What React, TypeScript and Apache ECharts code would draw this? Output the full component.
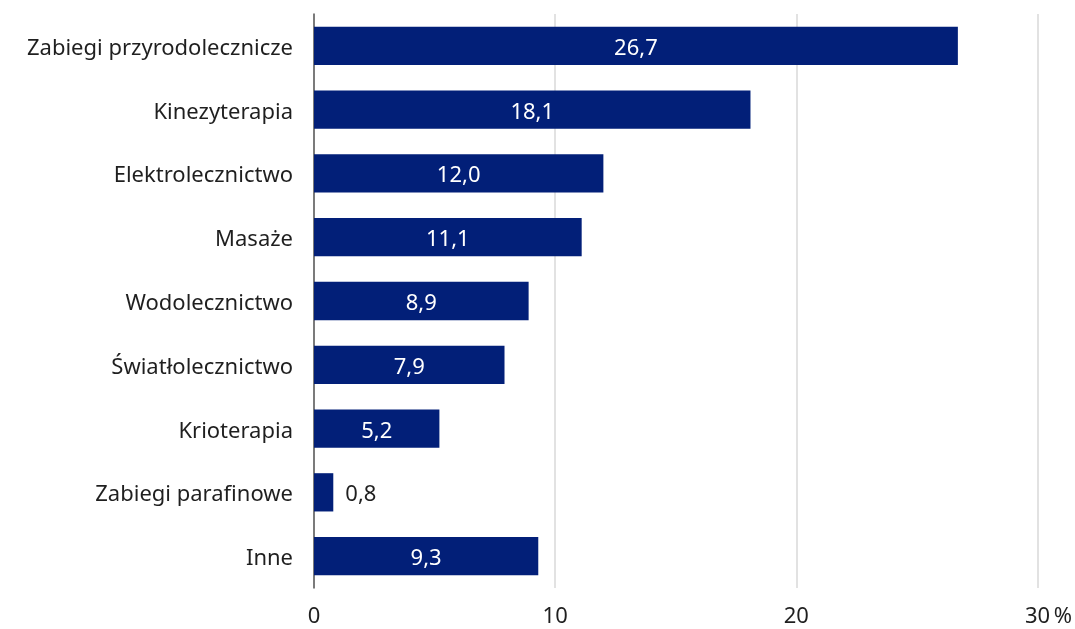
import React, { useEffect, useRef } from "react";
import * as echarts from "echarts";

const categories = [
  "Zabiegi przyrodolecznicze",
  "Kinezyterapia",
  "Elektrolecznictwo",
  "Masaże",
  "Wodolecznictwo",
  "Światłolecznictwo",
  "Krioterapia",
  "Zabiegi parafinowe",
  "Inne",
];
const values = [26.7, 18.1, 12.0, 11.1, 8.9, 7.9, 5.2, 0.8, 9.3];
const outsideLabelCategories = ["Zabiegi parafinowe"];

const FONT = "'Noto Sans', 'Open Sans', sans-serif";
const BAR = "#021f78";
const TEXT = "#1f1f1f";
const FS = 22;

export default function App() {
  const ref = useRef<HTMLDivElement>(null);
  useEffect(() => {
    if (!ref.current) return;
    const chart = echarts.init(ref.current, null, { renderer: "svg" });
    const fmt = (v: number) => v.toFixed(1).replace(".", ",");
    chart.setOption({
      animation: false,
      textStyle: { fontFamily: FONT },
      grid: { left: 314, right: 37, top: 14, bottom: 41, containLabel: false },
      xAxis: {
        type: "value",
        min: 0,
        max: 30,
        interval: 10,
        axisLine: { show: false },
        axisTick: { show: false },
        splitLine: { show: true, lineStyle: { color: "#d9d9d9", width: 1.5 } },
        axisLabel: {
          color: TEXT,
          fontSize: FS,
          fontFamily: FONT,
          margin: 15,
          formatter: (v: number) => (v === 30 ? "{p|30\u2009%}" : String(v)),
          rich: {
            p: { fontSize: FS, fontFamily: FONT, color: TEXT, padding: [0, 0, 0, 22] },
          },
        },
      },
      yAxis: {
        type: "category",
        data: categories,
        inverse: true,
        axisLine: { show: true, lineStyle: { color: "#595959", width: 1.5 } },
        axisTick: { show: false },
        axisLabel: { color: TEXT, fontSize: FS, fontFamily: FONT, margin: 21 },
      },
      series: [
        {
          type: "bar",
          barWidth: "60%",
          itemStyle: { color: BAR },
          data: values.map((v, i) =>
            outsideLabelCategories.includes(categories[i])
              ? {
                  value: v,
                  label: { position: "right", color: TEXT, distance: 12 },
                }
              : { value: v }
          ),
          label: {
            show: true,
            position: "inside",
            color: "#ffffff",
            fontSize: FS,
            fontFamily: FONT,
            formatter: (p: any) => fmt(p.value),
          },
        },
      ],
    });
    return () => chart.dispose();
  }, []);
  return (
    <div
      ref={ref}
      style={{ position: "fixed", left: 0, top: 0, width: 1075, height: 629 }}
    />
  );
}
